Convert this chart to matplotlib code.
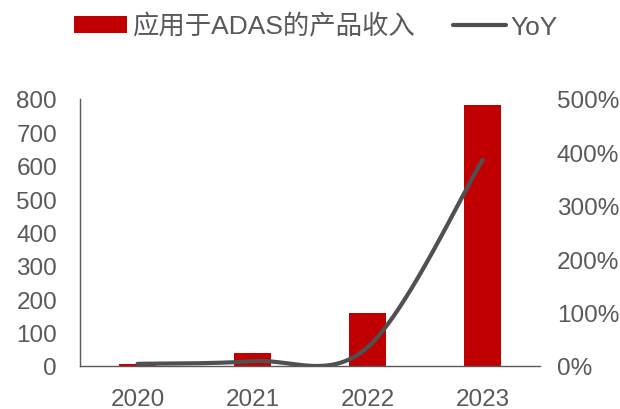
import numpy as np
import matplotlib
matplotlib.use("Agg")
import matplotlib.pyplot as plt
from matplotlib.patches import Patch
from matplotlib.lines import Line2D

plt.rcParams['font.family'] = ['Liberation Sans', 'Noto Sans CJK SC', 'DejaVu Sans']

years = ['2020', '2021', '2022', '2023']
revenue = [6, 39, 160, 781]
yoy = [4, 9, 35, 386]

bar_color = '#C00000'
line_color = '#505050'
text_color = '#595959'


def smooth(xs, ys, n=60):
    # Catmull-Rom style bezier smoothing through every point
    xs = np.asarray(xs, float)
    ys = np.asarray(ys, float)
    px = np.concatenate([[xs[0]], xs, [xs[-1]]])
    py = np.concatenate([[ys[0]], ys, [ys[-1]]])
    out_x, out_y = [], []
    t = np.linspace(0, 1, n)
    for i in range(1, len(px) - 2):
        x0, x1, x2, x3 = px[i - 1], px[i], px[i + 1], px[i + 2]
        y0, y1, y2, y3 = py[i - 1], py[i], py[i + 1], py[i + 2]
        c1x, c1y = x1 + (x2 - x0) / 6, y1 + (y2 - y0) / 6
        c2x, c2y = x2 - (x3 - x1) / 6, y2 - (y3 - y1) / 6
        bx = (1 - t) ** 3 * x1 + 3 * (1 - t) ** 2 * t * c1x + 3 * (1 - t) * t ** 2 * c2x + t ** 3 * x2
        by = (1 - t) ** 3 * y1 + 3 * (1 - t) ** 2 * t * c1y + 3 * (1 - t) * t ** 2 * c2y + t ** 3 * y2
        out_x.extend(bx)
        out_y.extend(by)
    return np.array(out_x), np.array(out_y)


fig = plt.figure(figsize=(6.2, 4.1), dpi=100)
ax = fig.add_axes([80 / 620, 1 - 367 / 410, 460 / 620, 267 / 410])
x = np.arange(len(years))
ax.bar(x, revenue, width=0.32, color=bar_color, zorder=2)
ax.set_xlim(-0.5, 3.5)
ax.set_ylim(0, 800)
ax.set_yticks(range(0, 801, 100))
ax.set_xticks(x)
ax.set_xticklabels(years)

for s in ['top', 'right']:
    ax.spines[s].set_visible(False)
for s in ['left', 'bottom']:
    ax.spines[s].set_color('#595959')
    ax.spines[s].set_linewidth(1.0)
ax.tick_params(axis='y', length=0, pad=16.5, labelsize=17.5, labelcolor=text_color)
ax.tick_params(axis='x', length=0, pad=16, labelsize=17.5, labelcolor=text_color)

ax2 = ax.twinx()
sx, sy = smooth(x, yoy)
ax2.plot(sx, sy, color=line_color, linewidth=3, solid_capstyle='round', zorder=3)
ax2.set_ylim(0, 500)
ax2.set_yticks(range(0, 501, 100))
ax2.set_yticklabels([f'{v}%' for v in range(0, 501, 100)])
for s in ['top', 'right', 'left', 'bottom']:
    ax2.spines[s].set_visible(False)
ax2.tick_params(axis='y', length=0, pad=12, labelsize=17.5, labelcolor=text_color)

handles = [Patch(facecolor=bar_color, edgecolor='none'),
           Line2D([0], [0], color=line_color, linewidth=3, solid_capstyle='round')]
labels = ['应用于ADAS的产品收入', 'YoY']
leg = fig.legend(handles, labels, loc='center', bbox_to_anchor=(316 / 620, 1 - 27 / 410),
                 ncol=2, frameon=False, fontsize=19, handlelength=2.0, handleheight=0.6,
                 handletextpad=0.2, columnspacing=1.45)
for t in leg.get_texts():
    t.set_color(text_color)

fig.savefig('out.png', dpi=100)
